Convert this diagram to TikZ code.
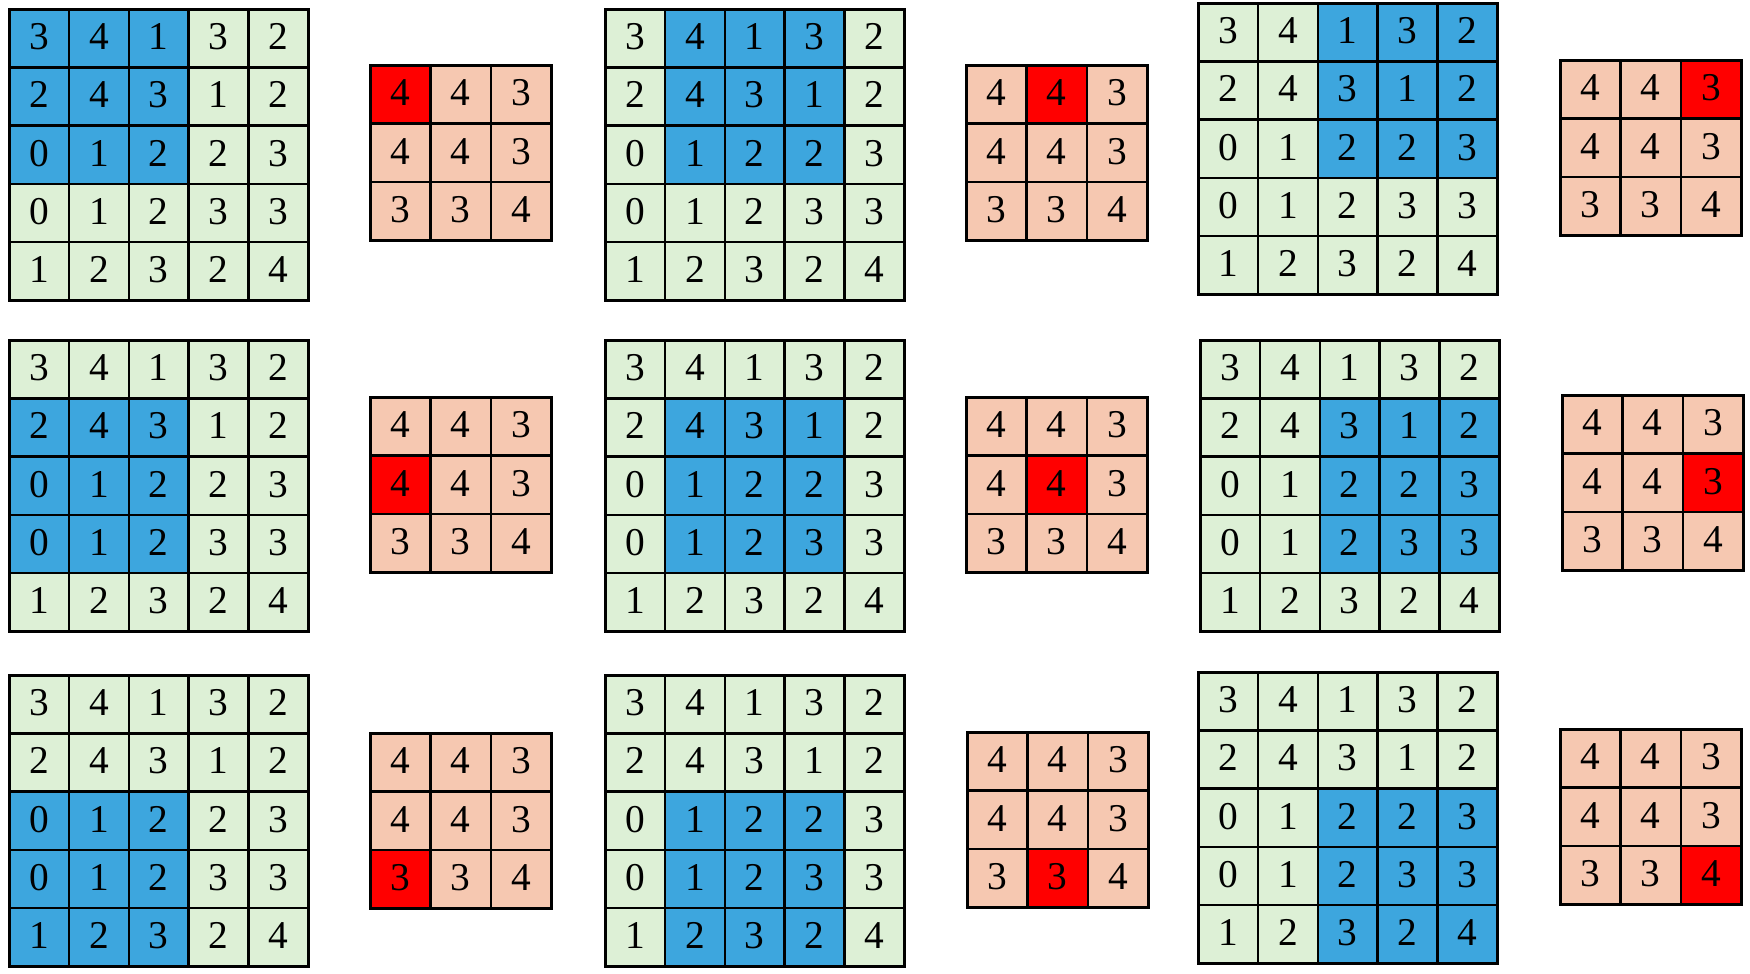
\documentclass[tikz,border=0pt]{standalone}
\usepackage{fontspec}
\setmainfont{Liberation Serif}
\definecolor{cg}{RGB}{221,240,214}
\definecolor{cb}{RGB}{61,166,222}
\definecolor{cs}{RGB}{246,200,177}
\definecolor{cr}{RGB}{255,0,0}
\tikzset{
  cellbase/.style={draw=black, line width=0.75pt, inner sep=0pt, anchor=north west,
    font=\fontsize{11.2}{13}\selectfont, text=black},
  incell/.style={cellbase, minimum width=0.598cm, minimum height=0.582cm},
  outcell/.style={cellbase, minimum width=0.603cm, minimum height=0.584cm},
}
% #1 name, #2 xin, #3 yin, #4 xout, #5 yout, #6 window row, #7 window col
\newcommand\poolpanel[7]{%
  \foreach \v [count=\k from 0] in {3,4,1,3,2, 2,4,3,1,2, 0,1,2,2,3, 0,1,2,3,3, 1,2,3,2,4} {
    \pgfmathtruncatemacro\rr{int(\k/5)}
    \pgfmathtruncatemacro\cc{mod(\k,5)}
    \pgfmathtruncatemacro\isb{and(and(\rr>=#6,\rr<=#6+2),and(\cc>=#7,\cc<=#7+2))}
    \ifnum\isb=1 \def\fc{cb}\else\def\fc{cg}\fi
    \node[incell, fill=\fc] (#1-in-\rr-\cc) at ({#2+59.8*\cc},{#3+58.2*\rr}) {\raisebox{1pt}{\v}};
  }
  \foreach \v [count=\k from 0] in {4,4,3, 4,4,3, 3,3,4} {
    \pgfmathtruncatemacro\rr{int(\k/3)}
    \pgfmathtruncatemacro\cc{mod(\k,3)}
    \pgfmathtruncatemacro\isr{and(\rr==#6,\cc==#7)}
    \ifnum\isr=1 \def\fc{cr}\else\def\fc{cs}\fi
    \node[outcell, fill=\fc] (#1-out-\rr-\cc) at ({#4+60.3*\cc},{#5+58.4*\rr}) {\raisebox{1pt}{\v}};
  }
}
\begin{document}
\begin{tikzpicture}[x=0.01cm, y=-0.01cm]
\path[fill=white, use as bounding box] (0,0) rectangle (1750,974);
\poolpanel{p11}{8}{8}{369}{64}{0}{0}
\poolpanel{p12}{604}{8}{965}{64}{0}{1}
\poolpanel{p13}{1197}{2}{1559}{59}{0}{2}
\poolpanel{p21}{8}{339}{369}{396}{1}{0}
\poolpanel{p22}{604}{339}{965}{396}{1}{1}
\poolpanel{p23}{1199}{339}{1561}{394}{1}{2}
\poolpanel{p31}{8}{674}{369}{732}{2}{0}
\poolpanel{p32}{604}{674}{966}{731}{2}{1}
\poolpanel{p33}{1197}{671}{1559}{728}{2}{2}
\end{tikzpicture}
\end{document}
